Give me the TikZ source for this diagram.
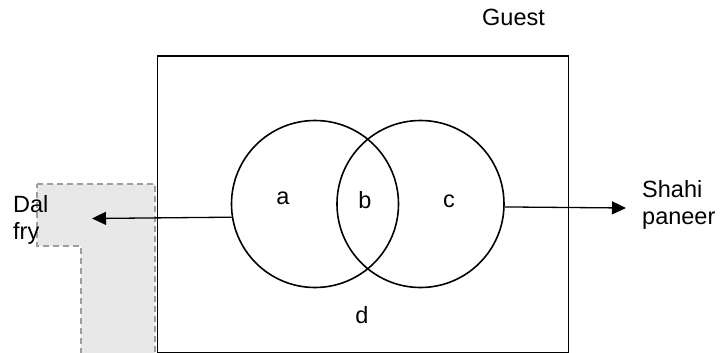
\documentclass[tikz,border=0pt]{standalone}
\usepackage{fontspec}
\setmainfont{Liberation Sans}
\usetikzlibrary{arrows.meta}
\begin{document}
\begin{tikzpicture}[x=1pt,y=-1pt,
  lbl/.style={inner sep=0pt,font=\fontsize{23.5}{27}\selectfont},
  setcirc/.style={circle,draw,line width=1.6pt,minimum size=167pt,inner sep=0pt},
  conn/.style={line width=1.3pt,-{Triangle[length=14pt,width=13pt]}},
  shade/.style={fill=black!9,draw=black!38,line width=1.4pt,dash pattern=on 6pt off 4pt}]
\useasboundingbox (0,0) rectangle (726,353);
% grey L-shaped region
\draw[shade] (37,184) -- (155,184) -- (155,358) -- (81,358) -- (81,246) -- (37,246) -- cycle;
% universe rectangle
\node[draw,line width=1.8pt,minimum width=411pt,minimum height=297pt,inner sep=0pt,anchor=north west] (U) at (156.5,55) {};
% sets
\node[setcirc] (A) at (315,204) {};
\node[setcirc] (C) at (420.5,204) {};
% region labels
\node[lbl] (la) at (283,198.5) {a};
\node[lbl] (lb) at (365,200) {b};
\node[lbl] (lc) at (449,201) {c};
\node[lbl] (ld) at (362,315) {d};
% titles
\node[lbl,anchor=base west] (guest) at (482,26) {Guest};
\node[lbl,anchor=north west,align=left] (dal) at (13,195) {Dal\\fry};
\node[lbl,anchor=north west,align=left] (shahi) at (642,180) {Shahi\\paneer};
% connectors
\coordinate (dtip) at (92,218.5);
\coordinate (stip) at (626,208);
\draw[conn] (A.189.65) -- (dtip);
\draw[conn] (C.-2.7) -- (stip);
\end{tikzpicture}
\end{document}
